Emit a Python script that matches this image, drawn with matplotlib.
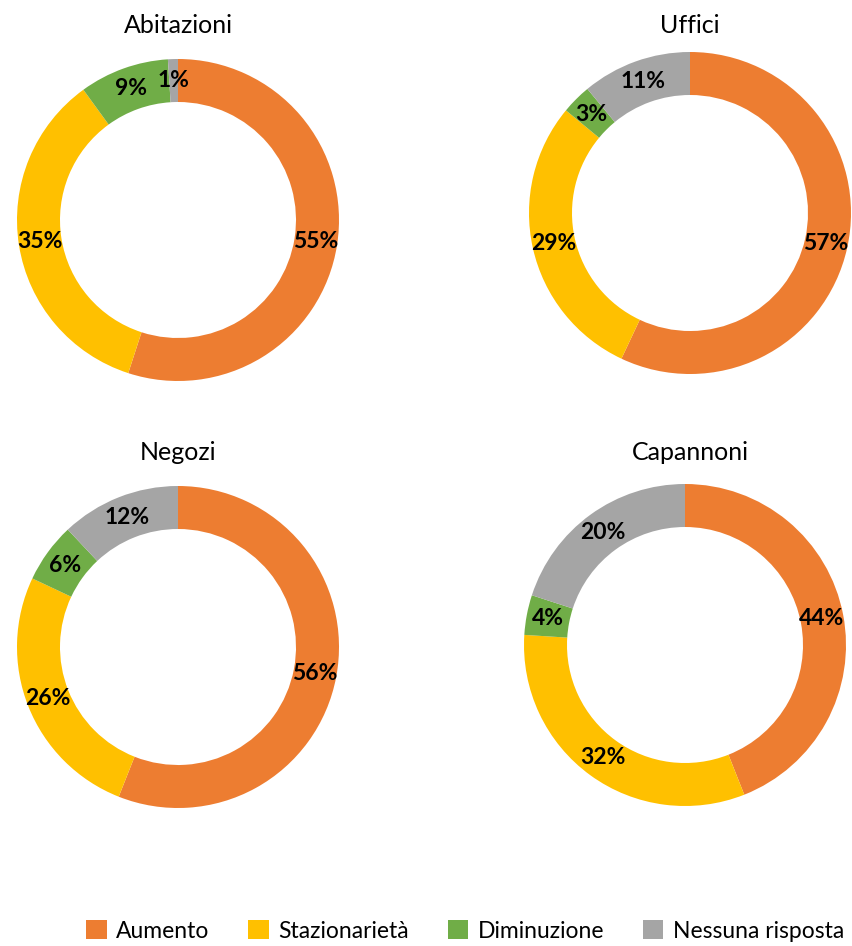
import matplotlib
matplotlib.use("Agg")
import matplotlib.pyplot as plt
from matplotlib.patches import Patch

plt.rcParams['font.family'] = ['Lato', 'DejaVu Sans']

categories = ["Aumento", "Stazionarietà", "Diminuzione", "Nessuna risposta"]
colors = ["#ED7D31", "#FFC000", "#70AD47", "#A5A5A5"]

titles = ["Abitazioni", "Uffici", "Negozi", "Capannoni"]
abitazioni = [55, 35, 9, 1]
uffici = [57, 29, 3, 11]
negozi = [56, 26, 6, 12]
capannoni = [44, 32, 4, 20]
series = [abitazioni, uffici, negozi, capannoni]

W, H = 853, 946
fig = plt.figure(figsize=(W / 100, H / 100), dpi=100)
ax = fig.add_axes([0, 0, 1, 1])
ax.set_xlim(0, W)
ax.set_ylim(0, H)
ax.set_aspect('equal')
ax.axis('off')

# donut centres and title positions (pixel layout, y measured from top)
centres = [(178, 220), (690, 213), (178, 647), (685, 645)]
title_pos = [(178, 25), (690, 25), (178, 452), (690, 452)]
R = 161
ring = 43

for vals, title, (cx, cy), (tx, ty) in zip(series, titles, centres, title_pos):
    ax.pie(vals, colors=colors, startangle=90, counterclock=False,
           center=(cx, H - cy), radius=R,
           wedgeprops=dict(width=ring, linewidth=0),
           autopct=lambda p: f"{p:.0f}%", pctdistance=(R - ring / 2) / R,
           textprops=dict(fontsize=16.5, fontweight='bold', color='black'))
    ax.text(tx, H - ty, title, ha='center', va='center', fontsize=18)

ax.set_xlim(0, W)
ax.set_ylim(0, H)

handles = [Patch(facecolor=c, edgecolor='none') for c in colors]
fig.legend(handles, categories, loc='center', bbox_to_anchor=(465 / W, 1 - 931 / H),
           ncol=4, frameon=False, fontsize=16.5, handlelength=0.9, handleheight=0.9,
           handletextpad=0.4, columnspacing=1.7, borderpad=0)

fig.savefig("out.png", dpi=100)
